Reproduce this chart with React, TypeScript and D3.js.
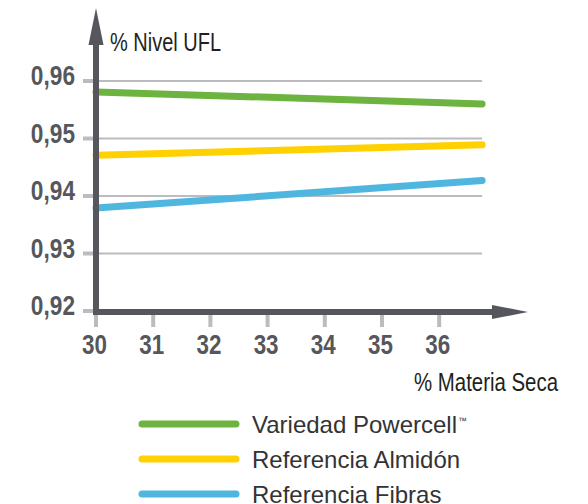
import * as d3 from 'd3';

const materiaSeca = [30, 36.75];
const powercell = [0.9581, 0.956];
const almidon = [0.9471, 0.9489];
const fibras = [0.9379, 0.9427];

const xTicks = [30, 31, 32, 33, 34, 35, 36];
const yTicks = [0.92, 0.93, 0.94, 0.95, 0.96];

const seriesNames = ['Variedad Powercell', 'Referencia Almidón', 'Referencia Fibras'];
const seriesColors = ['#6cb33f', '#ffd100', '#4fb6e0'];

const axisColor = '#55575c';
const gridColor = '#bcbcc0';
const sans = '"Liberation Sans", Arial, sans-serif';

// condensed-looking text: Liberation Sans squeezed horizontally
function Narrow({ x, y, anchor = 'start', size, bold = false, fill, sx = 0.8, children }: any) {
  return (
    <text transform={`translate(${x},${y}) scale(${sx},1)`} textAnchor={anchor}
      fontFamily={sans} fontWeight={bold ? 'bold' : 'normal'} fontSize={size} fill={fill}>
      {children}
    </text>
  );
}

export default function App() {
  const width = 588;
  const height = 504;

  const x = d3.scaleLinear().domain([30, 37]).range([96, 496.4]);
  const y = d3.scaleLinear().domain([0.92, 0.96]).range([311, 81]);
  const gridEnd = x(36.75);

  const line = d3.line<[number, number]>()
    .x(d => x(d[0]))
    .y(d => y(d[1]));

  const series = [powercell, almidon, fibras].map((vals, i) => ({
    name: seriesNames[i],
    color: seriesColors[i],
    points: vals.map((v, j) => [materiaSeca[j], v] as [number, number]),
  }));

  const fmt = (v: number) => v.toFixed(2).replace('.', ',');
  const axisY = 312;

  return (
    <svg width={width} height={height} style={{ position: 'absolute', left: 0, top: 0 }}>
      <rect width={width} height={height} fill="#fff" />

      {/* gridlines + y ticks */}
      {yTicks.map(t => (
        <g key={t}>
          {t > 0.92 && (
            <line x1={x(30)} x2={gridEnd} y1={y(t)} y2={y(t)} stroke={gridColor} strokeWidth={2} />
          )}
          <line x1={83} x2={96} y1={y(t)} y2={y(t)} stroke={gridColor} strokeWidth={4} />
          <Narrow x={75} y={y(t) + 4} anchor="end" bold size={27} sx={0.84} fill={axisColor}>{fmt(t)}</Narrow>
        </g>
      ))}

      {/* x ticks */}
      {xTicks.map(t => (
        <g key={t}>
          <line x1={x(t)} x2={x(t)} y1={axisY} y2={327} stroke={gridColor} strokeWidth={4} />
          <Narrow x={x(t) - 1.5} y={354} anchor="middle" bold size={28} sx={0.8} fill={axisColor}>{t}</Narrow>
        </g>
      ))}

      {/* series */}
      {series.map(s => (
        <path key={s.name} d={line(s.points) || ''} fill="none" stroke={s.color}
          strokeWidth={7} strokeLinecap="round" />
      ))}

      {/* axes */}
      <line x1={96} x2={96} y1={40} y2={axisY + 3} stroke={axisColor} strokeWidth={6} />
      <path d={`M96,8 L103.5,45 L88.5,45 Z`} fill={axisColor} />
      <line x1={93} x2={495} y1={axisY} y2={axisY} stroke={axisColor} strokeWidth={6} />
      <path d={`M528,${axisY} L492,${axisY - 7} L492,${axisY + 7} Z`} fill={axisColor} />

      <Narrow x={110} y={51} size={25} fill="#231f20">% Nivel UFL</Narrow>
      <Narrow x={558} y={391} anchor="end" size={25.5} fill="#231f20">% Materia Seca</Narrow>

      {/* legend */}
      {series.map((s, i) => {
        const ly = 424 + i * 35;
        return (
          <g key={s.name}>
            <line x1={142} x2={236} y1={ly} y2={ly} stroke={s.color} strokeWidth={7} strokeLinecap="round" />
            <text x={252} y={ly} dy="0.36em" fontFamily={sans} fontSize={24} fill="#333">
              {s.name}
              {i === 0 && <tspan fontSize={9} dy="-1em" dx="1">™</tspan>}
            </text>
          </g>
        );
      })}
    </svg>
  );
}
